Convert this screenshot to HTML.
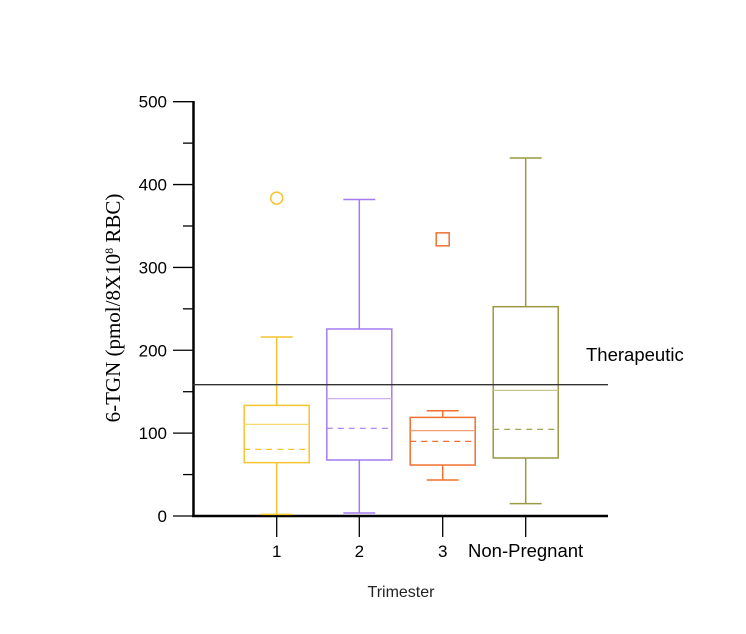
<!DOCTYPE html>
<html><head><meta charset="utf-8"><style>
body{margin:0;background:#fff}
svg{display:block}
text{font-family:"Liberation Sans",sans-serif}
</style></head><body>
<svg id="chart" width="746" height="634" viewBox="0 0 746 634"></svg>
<script>
const categories=["1","2","3","Non-Pregnant"];
const whiskerMax=[216,382,127,432];
const q3=[133.5,225.7,119,252.6];
const medians=[110.6,141.6,103,151.6];
const means=[80.4,105.8,90.1,104.6];
const q1=[64.4,67.6,61.5,70];
const whiskerMin=[2,3.6,43.4,14.9];
const outliers=[383.7,null,333.9,null];
const yTicks=[0,100,200,300,400,500];
const therapeutic=158.5;
const colors=["#f5c430","#a47cf0","#f07030","#9a9a40"];
const medColors=["#f8d870","#c4a8f6","#f4a070","#c8c890"];
const NS="http://www.w3.org/2000/svg";
const svg=document.getElementById('chart');
const y=v=>516-v*0.8286;
const xc=[276.7,359.3,442.7,525.7];
const x=i=>xc[i];
function el(t,a,p){const e=document.createElementNS(NS,t);for(const k in a)e.setAttribute(k,a[k]);(p||svg).appendChild(e);return e;}
let a=el('line',{x1:193.5,y1:101,x2:193.5,y2:517,stroke:'#000','stroke-width':2.5});


a=el('line',{x1:192,y1:516,x2:608,y2:516,stroke:'#000','stroke-width':2.5});


for(let v=0;v<=500;v+=50){
  const major=v%100===0;
  const t=el('line',{x1:major?173:183,y1:y(v),x2:193,y2:y(v),stroke:'#000','stroke-width':1.3});
  
  
}
yTicks.forEach(v=>{
  const t=el('text',{x:167,y:y(v)+6,'text-anchor':'end','font-size':17,fill:'#000'});
  t.textContent=v;
  
  
});
categories.forEach((c,i)=>{
  const t=el('line',{x1:x(i),y1:516,x2:x(i),y2:537,stroke:'#000','stroke-width':1.3});
  
  
  const l=el('text',{x:i===3?468:x(i),y:557,'text-anchor':i===3?'start':'middle','font-size':i===3?18.5:17,fill:'#000'});
  l.textContent=c;
  
  
});
categories.forEach((c,i)=>{
  const g=el('g',{});
  
  
  const col=colors[i],cx=x(i),hw=32.5,cw=16;
  el('line',{x1:cx,y1:y(whiskerMax[i]),x2:cx,y2:y(q3[i]),stroke:col,'stroke-width':1.5},g);
  el('line',{x1:cx,y1:y(q1[i]),x2:cx,y2:y(whiskerMin[i]),stroke:col,'stroke-width':1.5},g);
  el('line',{x1:cx-cw,y1:y(whiskerMax[i]),x2:cx+cw,y2:y(whiskerMax[i]),stroke:col,'stroke-width':1.5},g);
  el('line',{x1:cx-cw,y1:y(whiskerMin[i]),x2:cx+cw,y2:y(whiskerMin[i]),stroke:col,'stroke-width':1.5},g);
  el('rect',{x:cx-hw,y:y(q3[i]),width:2*hw,height:y(q1[i])-y(q3[i]),fill:'none',stroke:col,'stroke-width':1.5},g);
  el('line',{x1:cx-hw,y1:y(medians[i]),x2:cx+hw,y2:y(medians[i]),stroke:medColors[i],'stroke-width':1.2},g);
  el('line',{x1:cx-hw,y1:y(means[i]),x2:cx+hw,y2:y(means[i]),stroke:col,'stroke-width':1.2,'stroke-dasharray':'6,5'},g);
  if(outliers[i]!==null){
    if(i===0) el('circle',{cx:cx,cy:y(outliers[i]),r:6,fill:'none',stroke:col,'stroke-width':1.5},g);
    else el('rect',{x:cx-6.5,y:y(outliers[i])-6.5,width:13,height:13,fill:'none',stroke:col,'stroke-width':1.5},g);
  }
});
a=el('line',{x1:193,y1:y(therapeutic),x2:608,y2:y(therapeutic),stroke:'#333','stroke-width':1.3});


a=el('text',{x:586,y:361,'font-size':18.5,fill:'#000'});a.textContent='Therapeutic';


a=el('text',{x:401,y:597,'text-anchor':'middle','font-size':16,fill:'#222'});a.textContent='Trimester';


a=el('text',{x:0,y:0,'text-anchor':'middle','font-size':21,fill:'#000',transform:'translate(120,308) rotate(-90)',style:'font-family:"Liberation Serif",serif'});
a.innerHTML='6-TGN (pmol/8X10<tspan dy="-7" font-size="12">8</tspan><tspan dy="7"> RBC)</tspan>';


</script>
</body></html>
